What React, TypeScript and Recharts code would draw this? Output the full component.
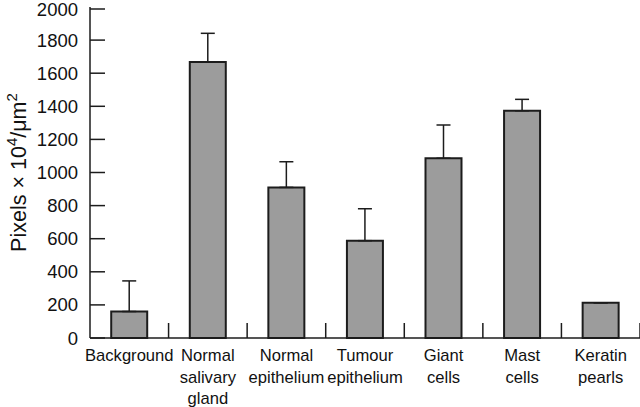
import { BarChart, Bar, XAxis, YAxis, ErrorBar } from 'recharts';

const categories = [
  ['Background'],
  ['Normal', 'salivary', 'gland'],
  ['Normal', 'epithelium'],
  ['Tumour', 'epithelium'],
  ['Giant', 'cells'],
  ['Mast', 'cells'],
  ['Keratin', 'pearls'],
];
const means = [160, 1668, 910, 588, 1086, 1373, 213];
const sdUpper = [185, 173, 155, 193, 201, 69, 0];
const yTicks = [0, 200, 400, 600, 800, 1000, 1200, 1400, 1600, 1800, 2000];

const data = categories.map((lines, i) => ({
  name: lines.join(' '),
  lines,
  value: means[i],
  err: [0, sdUpper[i]],
}));

const W = 640;
const H = 407;
const LEFT = 90;
const INK = '#1c1c1c';
const FONT = 'Liberation Sans, Arial, Helvetica, sans-serif';

const YTick = (props: any) => {
  const { x, y, payload } = props;
  return (
    <g>
      <line x1={x} x2={x + 15} y1={y} y2={y} stroke={INK} strokeWidth={1.5} />
      <text x={x - 12} y={y} dy={6.5} textAnchor="end" fontSize={18.5} fontFamily={FONT} fill="#111">
        {payload.value}
      </text>
    </g>
  );
};

const XTick = (props: any) => {
  const { x, y, payload, index } = props;
  const band = (W - LEFT) / categories.length;
  const item = data[index];
  const lines = item ? item.lines : [String(payload.value)];
  const edge = x + band / 2;
  return (
    <g>
      <line x1={edge} x2={edge} y1={y} y2={y - 15} stroke={INK} strokeWidth={1.5} />
      <text x={x} y={y} textAnchor="middle" fontSize={16.6} fontFamily={FONT} fill="#111">
        {lines.map((l: string, k: number) => (
          <tspan key={k} x={x} dy={k === 0 ? 23 : 21.5}>{l}</tspan>
        ))}
      </text>
    </g>
  );
};

const YLabel = (props: any) => {
  const vb = props.viewBox || { y: 7, height: 331 };
  const cy = vb.y + vb.height / 2;
  return (
    <text
      x={0}
      y={0}
      transform={`translate(26, ${cy}) rotate(-90)`}
      textAnchor="middle"
      fontSize={21.5}
      fontFamily={FONT}
      fill="#111"
    >
      Pixels × 10
      <tspan dy={-9} fontSize={15}>4</tspan>
      <tspan dy={9}>/μm</tspan>
      <tspan dy={-9} fontSize={15}>2</tspan>
    </text>
  );
};

export default function App() {
  return (
    <div style={{ position: 'absolute', left: 0, top: 0, width: W, height: H, background: '#fff' }}>
      <BarChart
        width={W}
        height={H}
        data={data}
        margin={{ top: 7, right: 0, bottom: 0, left: 0 }}
        barCategoryGap="27%"
      >
        <XAxis
          dataKey="name"
          interval={0}
          tick={<XTick />}
          tickLine={false}
          tickSize={0}
          tickMargin={0}
          axisLine={{ stroke: INK, strokeWidth: 1.5 }}
          height={69}
        />
        <YAxis
          width={LEFT}
          domain={[0, 2000]}
          ticks={yTicks}
          tick={<YTick />}
          tickLine={false}
          tickSize={0}
          tickMargin={0}
          axisLine={{ stroke: INK, strokeWidth: 1.5 }}
          label={<YLabel />}
        />
        <Bar dataKey="value" fill="#9c9c9c" stroke={INK} strokeWidth={2} isAnimationActive={false}>
          <ErrorBar dataKey="err" width={7} stroke={INK} strokeWidth={1.5} direction="y" />
        </Bar>
      </BarChart>
    </div>
  );
}
